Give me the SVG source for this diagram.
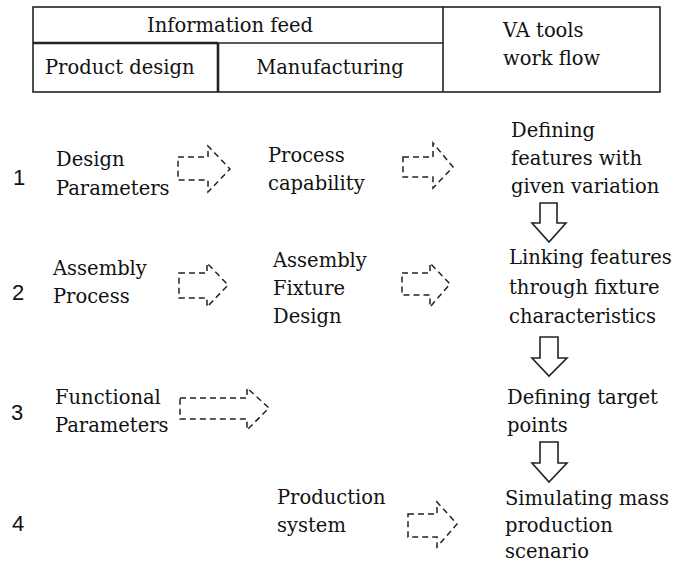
<svg xmlns="http://www.w3.org/2000/svg" width="676" height="564" viewBox="0 0 676 564">
<style>
.t{font-family:"DejaVu Serif","Liberation Serif",serif;font-size:19.5px;fill:#111}
.n{font-family:"Liberation Sans",Arial,sans-serif;font-size:22px;fill:#111}
.ln{stroke:#222;stroke-width:1.6;fill:none}
.bold{stroke:#222;stroke-width:2.6;fill:none}
.dash{stroke:#222;stroke-width:1.5;fill:none;stroke-dasharray:6 4}
.solid{stroke:#222;stroke-width:1.6;fill:#fff}
</style>
<rect width="676" height="564" fill="#fff"/>
<g id="header">
<rect class="ln" x="33" y="7" width="627" height="85"/>
<line class="ln" x1="443" y1="7" x2="443" y2="92"/>
<line class="ln" x1="218" y1="43" x2="443" y2="43"/>
<line class="bold" x1="33" y1="43" x2="218" y2="43"/>
<line class="bold" x1="218" y1="43" x2="218" y2="92"/>
<text class="t" x="230" y="32" text-anchor="middle">Information feed</text>
<text class="t" x="45" y="74">Product design</text>
<text class="t" x="330" y="74" text-anchor="middle">Manufacturing</text>
<text class="t" x="503" y="37">VA tools</text>
<text class="t" x="503" y="65">work flow</text>
</g>
<g id="row-numbers">
<text class="n" x="13" y="185">1</text>
<text class="n" x="12" y="300">2</text>
<text class="n" x="11" y="420">3</text>
<text class="n" x="12" y="531">4</text>
</g>
<g id="design-parameters"><text class="t" x="56" y="166">Design</text><text class="t" x="56" y="195">Parameters</text></g>
<g id="process-capability"><text class="t" x="268" y="162">Process</text><text class="t" x="268" y="190">capability</text></g>
<g id="defining-features"><text class="t" x="511" y="137">Defining</text><text class="t" x="511" y="165">features with</text><text class="t" x="511" y="193">given variation</text></g>
<g id="assembly-process"><text class="t" x="53" y="275">Assembly</text><text class="t" x="53" y="303">Process</text></g>
<g id="assembly-fixture-design"><text class="t" x="273" y="267">Assembly</text><text class="t" x="273" y="295">Fixture</text><text class="t" x="273" y="323">Design</text></g>
<g id="linking-features"><text class="t" x="509" y="264">Linking features</text><text class="t" x="509" y="294">through fixture</text><text class="t" x="509" y="323">characteristics</text></g>
<g id="functional-parameters"><text class="t" x="55" y="404">Functional</text><text class="t" x="55" y="432">Parameters</text></g>
<g id="defining-target"><text class="t" x="507" y="404">Defining target</text><text class="t" x="507" y="432">points</text></g>
<g id="production-system"><text class="t" x="277" y="504">Production</text><text class="t" x="277" y="532">system</text></g>
<g id="simulating"><text class="t" x="505" y="505">Simulating mass</text><text class="t" x="505" y="532">production</text><text class="t" x="505" y="558">scenario</text></g>
<g id="connectors">
<path class="dash" d="M178 157H208V146L230 169L208 192V180H178Z"/>
<path class="dash" d="M403 157H433V143L453 167L433 188V177H403Z"/>
<path class="dash" d="M179 273H207V263L228 285L207 307V298H179Z"/>
<path class="dash" d="M402 273H430V263L450 284L430 307V295H402Z"/>
<path class="dash" d="M180 398H247V388L269 408L247 430V419H180Z"/>
<path class="dash" d="M408 514H437V502L457 524L437 547V537H408Z"/>
<path class="solid" d="M540 203H557V223H566L549 242L532 223H540Z"/>
<path class="solid" d="M540 337H558V358H567L549 376L532 358H540Z"/>
<path class="solid" d="M540 442H558V463H567L549 482L532 463H540Z"/>
</g>
</svg>
